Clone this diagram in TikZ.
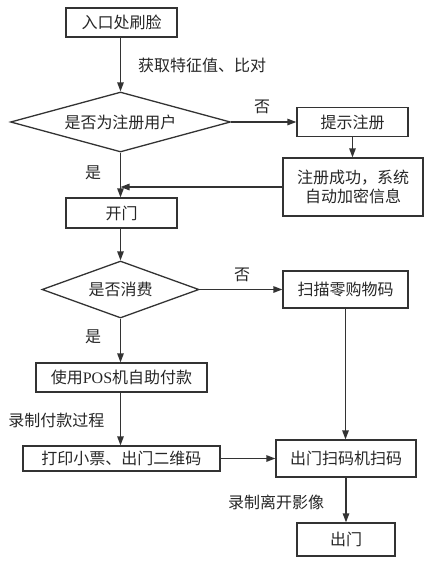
\documentclass[tikz,border=0pt]{standalone}
\usepackage{fontspec}
\setmainfont{Liberation Serif}
\newfontfamily\cjk{Noto Sans CJK SC}
\usetikzlibrary{shapes.geometric,arrows.meta}
\begin{document}
\begin{tikzpicture}[x=1pt,y=-1pt,
  every node/.style={font=\cjk\fontsize{16}{19.5}\selectfont, text=black!85},
  box/.style={draw=black!80, line width=1.3pt, rectangle, inner sep=0pt},
  dia/.style={draw=black!80, line width=1.3pt, diamond, inner sep=0pt},
  lab/.style={inner sep=0pt},
  arr/.style={draw=black!80, line width=1.3pt, -{Triangle[length=9pt,width=6.5pt]}},
  ln/.style={draw=black!80, line width=1.3pt}]
\useasboundingbox (0,0) rectangle (430,566);
\node[box, minimum width=111pt, minimum height=29pt] (n1) at (121.5,22.5) {入口处刷脸};
\node[dia, aspect=3.67, minimum width=220pt, minimum height=60pt] (d1) at (120.5,122) {是否为注册用户};
\node[box, minimum width=111pt, minimum height=29pt] (n2) at (352.5,122) {提示注册};
\node[box, minimum width=140pt, minimum height=58pt, align=center] (n3) at (353,187) {注册成功，系统\\自动加密信息};
\node[box, minimum width=111pt, minimum height=30pt] (n4) at (121.5,213) {开门};
\node[dia, aspect=2.75, minimum width=157pt, minimum height=57pt] (d2) at (120.5,289.5) {是否消费};
\node[box, minimum width=125pt, minimum height=37pt] (n5) at (345.5,289.5) {扫描零购物码};
\node[box, minimum width=171pt, minimum height=29pt] (n6) at (121.5,377.5) {使用{\rmfamily POS}机自助付款};
\node[box, minimum width=197pt, minimum height=25pt] (n7) at (121.5,458.5) {打印小票、出门二维码};
\node[box, minimum width=140pt, minimum height=37pt] (n8) at (346,458.5) {出门扫码机扫码};
\node[box, minimum width=98pt, minimum height=33pt] (n9) at (346,539.5) {出门};

\node[lab, anchor=west] (l1) at (138,65) {获取特征值、比对};
\node[lab] (l2) at (262,107) {否};
\node[lab] (l3) at (93,173) {是};
\node[lab] (l4) at (242,275) {否};
\node[lab] (l5) at (93,337) {是};
\node[lab] (l6) at (56.5,420) {录制付款过程};
\node[lab] (l7) at (276,502) {录制离开影像};

\draw[arr] (n1.south -| d1) -- (d1.north);
\draw[arr] (d1.east) -- (n2.west);
\draw[arr] (n2.south) -- (n3.north -| n2.south);
\draw[arr] (d1.south) -- (n4.north -| d1.south);
\coordinate (j1) at (n3.west -| d1.south);
\draw[arr] (n3.west) -- (j1);
\draw[arr] (n4.south -| d2) -- (d2.north);
\draw[arr] (d2.east) -- (n5.west);
\draw[arr] (d2.south) -- (n6.north -| d2.south);
\draw[arr] (n6.south -| d2) -- (n7.north -| d2);
\draw[arr] (n7.east) -- (n8.west);
\draw[arr] (n5.south) -- (n8.north -| n5.south);
\draw[arr] (n8.south) -- (n9.north);
\end{tikzpicture}
\end{document}
